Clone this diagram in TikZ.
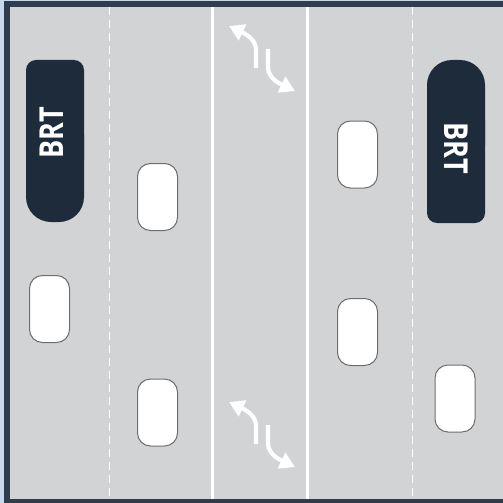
\documentclass[tikz,border=0pt]{standalone}
\usepackage{fontspec}
\newfontfamily\brtfont{Open Sans}[FakeStretch=0.82]
\usetikzlibrary{arrows.meta}

\definecolor{edgeblue}{HTML}{C6D9EC}
\definecolor{kerbnavy}{HTML}{2F3E4E}
\definecolor{asphalt}{HTML}{D2D3D4}
\definecolor{busnavy}{HTML}{1D2B3A}
\definecolor{carline}{HTML}{6E6E6E}

\tikzset{
  car/.style={draw=carline, fill=white, line width=1pt, rounded corners=13pt,
    minimum width=40pt, minimum height=67pt, inner sep=0pt},
  lanedash/.style={white, line width=1.4pt, dash pattern=on 8pt off 5pt},
  lanesolid/.style={white, line width=3pt},
  turn/.style={white, line width=4.2pt, -{Triangle[length=15pt,width=17pt]}},
  brtlabel/.style={text=white, inner sep=0pt,
    font=\brtfont\bfseries\fontsize{33}{33}\selectfont},
}

\begin{document}
\begin{tikzpicture}[x=1pt, y=-1pt]
  \useasboundingbox (0,0) rectangle (503,503);

  % road and kerb
  \fill[edgeblue] (0,0) rectangle (503,503);
  \fill[kerbnavy] (4,1) rectangle (503,503);
  \fill[asphalt] (10,7) rectangle (503,499);

  % lane markings
  \draw[lanedash] (109.5,7) -- (109.5,499);
  \draw[lanesolid] (212.5,7) -- (212.5,499);
  \draw[lanesolid] (307.5,7) -- (307.5,499);
  \draw[lanedash] (412.5,7) -- (412.5,499);

  % BRT buses
  \fill[busnavy, rounded corners=10pt] (26,60) rectangle (84,170);
  \fill[busnavy, rounded corners=25pt] (26,110) rectangle (84,222);
  \node[brtlabel, rotate=90] (brtwest) at (52,133) {BRT};

  \fill[busnavy, rounded corners=25pt] (427,60) rectangle (485,170);
  \fill[busnavy, rounded corners=10pt] (427,110) rectangle (485,223);
  \node[brtlabel, rotate=-90] (brteast) at (456,148) {BRT};

  % cars
  \node[car] (carA) at (49.5,309) {};
  \node[car] (carB) at (157.5,197) {};
  \node[car] (carC) at (157.5,412.5) {};
  \node[car] (carD) at (357.5,154.5) {};
  \node[car] (carE) at (357.5,332) {};
  \node[car] (carF) at (455,398.5) {};

  % turning arrows
  \foreach \dy in {0,376} {
    \draw[turn] (256,68+\dy) -- (256,50+\dy)
      .. controls (256,42+\dy) and (250,36+\dy) .. (229,26+\dy);
    \draw[turn] (268,49+\dy) -- (268,67+\dy)
      .. controls (268,75+\dy) and (274,81+\dy) .. (295,91+\dy);
  }
\end{tikzpicture}
\end{document}
